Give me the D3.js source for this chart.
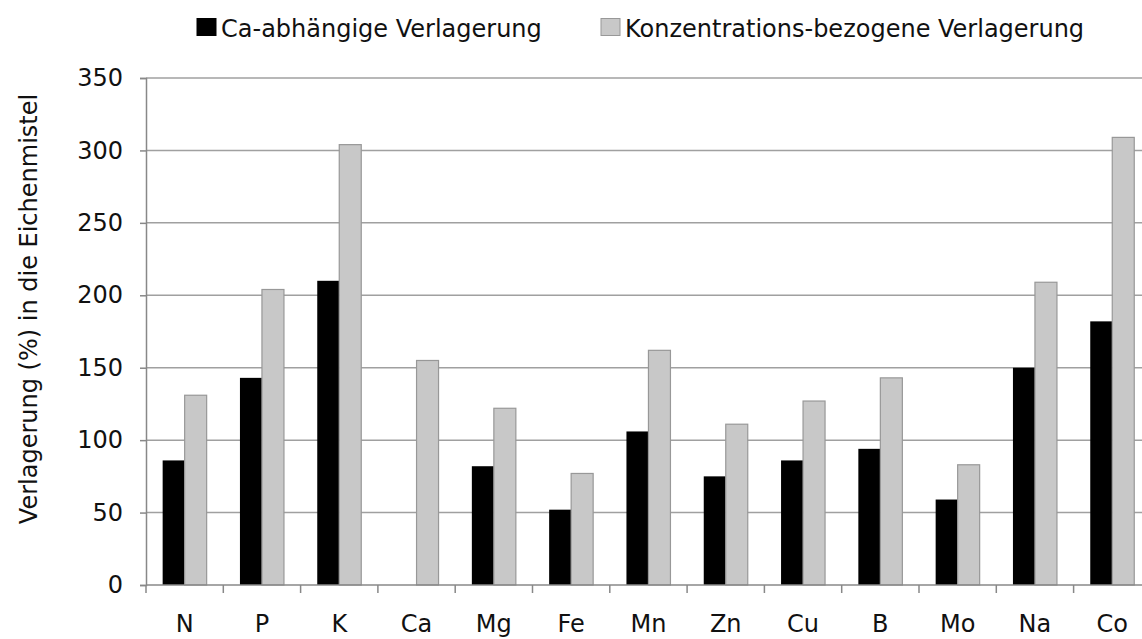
<!DOCTYPE html>
<html><head><meta charset="utf-8">
<script src="https://cdn.jsdelivr.net/npm/d3@7/dist/d3.min.js"></script>
<style>body{margin:0;background:#fff;} svg{display:block;}</style>
</head><body>
<svg id="c" width="1142" height="639"></svg>
<script>
const categories = ["N","P","K","Ca","Mg","Fe","Mn","Zn","Cu","B","Mo","Na","Co"];
const caValues = [86, 143, 210, 0, 82, 52, 106, 75, 86, 94, 59, 150, 182];
const concValues = [131, 204, 304, 155, 122, 77, 162, 111, 127, 143, 83, 209, 309];
const seriesNames = ["Ca-abhängige Verlagerung", "Konzentrations-bezogene Verlagerung"];
const yTicks = [0, 50, 100, 150, 200, 250, 300, 350];
const yTitle = "Verlagerung (%) in die Eichenmistel";

const svg = d3.select("#c");
const font = "DejaVu Sans, Verdana, sans-serif";
const x0 = 146, x1 = 146 + 13 * 77.3, yTop = 78, yBot = 585;

const x = d3.scaleBand().domain(categories).range([x0, x1]).paddingInner(0).paddingOuter(0);
const y = d3.scaleLinear().domain([0, 350]).range([yBot, yTop]);
const groupW = 44;
const xs = d3.scaleBand().domain([0, 1]).range([0, groupW]);

// gridlines
svg.append("g").selectAll("line").data(yTicks.filter(d => d > 0)).join("line")
  .attr("x1", x0).attr("x2", 1142).attr("y1", d => y(d)).attr("y2", d => y(d))
  .attr("stroke", "#a0a0a0").attr("stroke-width", 1.5);

// bars
const fills = ["#000000", "#c8c8c8"];
const strokes = ["#000000", "#989898"];
[caValues, concValues].forEach((vals, si) => {
  svg.append("g").selectAll("rect").data(categories).join("rect")
    .attr("x", (c) => x(c) + x.bandwidth() / 2 - groupW / 2 + xs(si))
    .attr("width", xs.bandwidth())
    .attr("y", (c, i) => y(vals[i]))
    .attr("height", (c, i) => y(0) - y(vals[i]))
    .attr("fill", fills[si]).attr("stroke", si === 0 ? "none" : strokes[si])
    .attr("stroke-width", 1.2);
});

// y axis
const yAxis = d3.axisLeft(y).tickValues(yTicks).tickSize(6).tickPadding(17);
const gy = svg.append("g").attr("transform", `translate(${x0},0)`).call(yAxis);
gy.select(".domain").attr("stroke", "#888").attr("stroke-width", 1.5);
gy.selectAll(".tick line").attr("stroke", "#888").attr("stroke-width", 1.5);
gy.selectAll("text").attr("font-family", font).attr("font-size", 24).attr("fill", "#111");

// x axis
const gx = svg.append("g").attr("transform", `translate(0,${yBot})`);
gx.append("line").attr("x1", x0).attr("x2", 1142).attr("y1", 0).attr("y2", 0)
  .attr("stroke", "#888").attr("stroke-width", 1.5);
gx.selectAll("line.tk").data(categories).join("line").attr("class", "tk")
  .attr("x1", c => x(c)).attr("x2", c => x(c)).attr("y1", 0).attr("y2", 8)
  .attr("stroke", "#888").attr("stroke-width", 1.5);
gx.selectAll("text").data(categories).join("text")
  .attr("x", c => x(c) + x.bandwidth() / 2).attr("y", 47)
  .attr("text-anchor", "middle").attr("font-family", font).attr("font-size", 24).attr("fill", "#111")
  .text(c => c);

// y title
svg.append("text").attr("transform", `translate(37,309) rotate(-90)`)
  .attr("text-anchor", "middle").attr("font-family", font).attr("font-size", 24).attr("fill", "#111")
  .text(yTitle);

// legend
const legX = [197, 601];
seriesNames.forEach((n, i) => {
  svg.append("rect").attr("x", legX[i]).attr("y", 18.5).attr("width", 19).attr("height", 17)
    .attr("fill", fills[i]).attr("stroke", i ? "#989898" : "#000").attr("stroke-width", 1);
  svg.append("text").attr("x", legX[i] + 24).attr("y", 36.5)
    .attr("font-family", font).attr("font-size", 24).attr("fill", "#111").text(n);
});
</script>
</body></html>
